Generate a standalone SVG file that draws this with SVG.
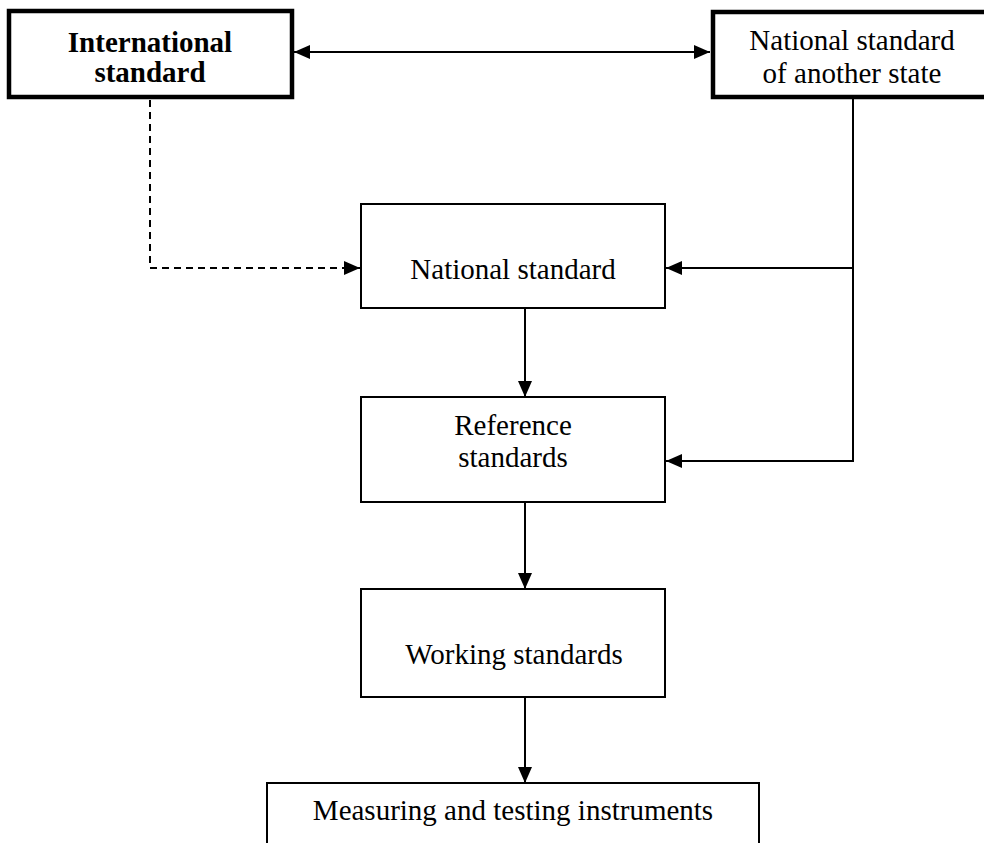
<svg xmlns="http://www.w3.org/2000/svg" width="984" height="843" viewBox="0 0 984 843">
<style>
  .box { fill: #fff; stroke: #000; stroke-width: 2; }
  .thick { stroke-width: 4.5; }
  .t { font-family: "Liberation Serif", "Times New Roman", serif; font-size: 29px; fill: #000; text-anchor: middle; }
  .b { font-weight: bold; }
  .c { fill: none; stroke: #000; stroke-width: 2; }
  .d { stroke-dasharray: 7 5; }
</style>
<defs>
  <marker id="ah" viewBox="0 0 16 14" refX="16" refY="7" markerWidth="16" markerHeight="14" markerUnits="userSpaceOnUse" orient="auto-start-reverse">
    <path d="M0,0 L16,7 L0,14 Z" fill="#000"/>
  </marker>
</defs>
<rect width="984" height="843" fill="#fff"/>
<g id="connectors">
  <line class="c" x1="294" y1="52" x2="710" y2="52" marker-start="url(#ah)" marker-end="url(#ah)"/>
  <polyline class="c d" points="150,100 150,268 360,268" marker-end="url(#ah)"/>
  <polyline class="c" points="853,98 853,461 666,461" marker-end="url(#ah)"/>
  <line class="c" x1="853" y1="268" x2="666" y2="268" marker-end="url(#ah)"/>
  <line class="c" x1="525" y1="309" x2="525" y2="397" marker-end="url(#ah)"/>
  <line class="c" x1="525" y1="502" x2="525" y2="589" marker-end="url(#ah)"/>
  <line class="c" x1="525" y1="697" x2="525" y2="783" marker-end="url(#ah)"/>
</g>
<g id="international">
  <rect class="box thick" x="9" y="11" width="283" height="86"/>
  <text class="t b" x="150" y="52">International</text>
  <text class="t b" x="150" y="82">standard</text>
</g>
<g id="national-another">
  <rect class="box thick" x="713" y="12" width="290" height="85"/>
  <text class="t" x="852" y="50">National standard</text>
  <text class="t" x="852" y="83">of another state</text>
</g>
<g id="national">
  <rect class="box" x="361" y="204" width="304" height="104"/>
  <text class="t" x="513" y="279">National standard</text>
</g>
<g id="reference">
  <rect class="box" x="361" y="397" width="304" height="105"/>
  <text class="t" x="513" y="435">Reference</text>
  <text class="t" x="513" y="467">standards</text>
</g>
<g id="working">
  <rect class="box" x="361" y="589" width="304" height="108"/>
  <text class="t" x="514" y="664">Working standards</text>
</g>
<g id="measuring">
  <rect class="box" x="267" y="783" width="492" height="80"/>
  <text class="t" x="513" y="820">Measuring and testing instruments</text>
</g>
</svg>
